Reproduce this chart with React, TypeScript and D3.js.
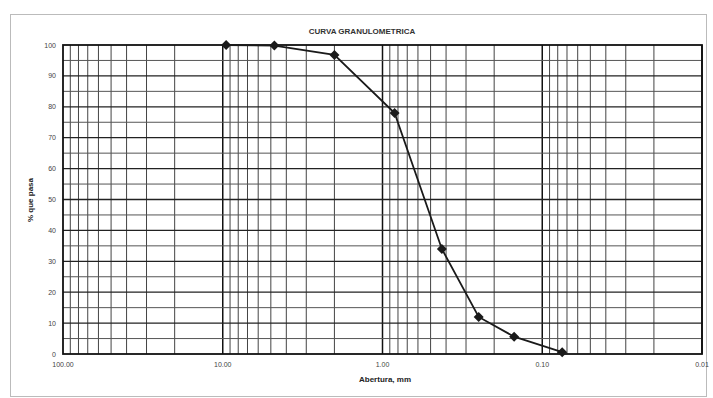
import React, { useEffect, useRef } from "react";
import * as d3 from "d3";

// sieve openings (mm) and cumulative percent passing
const aberturas = [9.525, 4.75, 2.0, 0.84, 0.425, 0.25, 0.15, 0.075];
const pasa = [100, 99.8, 96.8, 78.0, 34.0, 12.0, 5.6, 0.6];
const xTicks = [100, 10, 1, 0.1, 0.01];
const yTicks = [0, 10, 20, 30, 40, 50, 60, 70, 80, 90, 100];

const App = () => {
  const ref = useRef<SVGSVGElement>(null);

  useEffect(() => {
    const svg = d3.select(ref.current);
    svg.selectAll("*").remove();

    const W = 713, H = 398;
    const margin = { top: 45, right: 11, bottom: 44, left: 63 };
    const w = W - margin.left - margin.right,
      h = H - margin.top - margin.bottom;

    // outer frame of the chart area
    svg.append("rect")
      .attr("x", 10.5).attr("y", 14.5)
      .attr("width", 696).attr("height", 382)
      .attr("fill", "#fff")
      .attr("stroke", "#bbb");

    svg.append("text")
      .attr("x", 362).attr("y", 34)
      .attr("text-anchor", "middle")
      .style("font-family", "Liberation Sans, Arial, sans-serif")
      .style("font-size", "8px")
      .style("font-weight", "bold")
      .attr("fill", "#333")
      .text("CURVA GRANULOMETRICA");

    const g = svg.append("g")
      .attr("transform", `translate(${margin.left}, ${margin.top})`);

    // log axis, reversed: coarse on the left
    const x = d3.scaleLog().domain([100, 0.01]).range([0, w]);
    const y = d3.scaleLinear().domain([0, 100]).range([h, 0]);

    // vertical gridlines: 1..9 in every decade
    const vLines: number[] = [];
    for (let e = -2; e < 2; e++) {
      for (let k = 1; k <= 9; k++) vLines.push(k * Math.pow(10, e));
    }
    const isMajor = (d: number) => Math.abs(Math.log10(d) % 1) < 1e-9;
    g.selectAll(".vgrid").data(vLines).join("line")
      .attr("class", "vgrid")
      .attr("x1", d => x(d)).attr("x2", d => x(d))
      .attr("y1", 0).attr("y2", h)
      .attr("stroke", d => (isMajor(d) ? "#111" : "#444"))
      .attr("stroke-width", d => (isMajor(d) ? 1.5 : 1));

    // horizontal gridlines every 5 %
    const hLines = d3.range(5, 100, 5);
    g.selectAll(".hgrid").data(hLines).join("line")
      .attr("class", "hgrid")
      .attr("x1", 0).attr("x2", w)
      .attr("y1", d => y(d)).attr("y2", d => y(d))
      .attr("stroke", d => (d % 10 === 0 ? "#222" : "#555"))
      .attr("stroke-width", d => (d % 10 === 0 ? 1.3 : 1));

    // plot border
    g.append("rect")
      .attr("width", w).attr("height", h)
      .attr("fill", "none")
      .attr("stroke", "#111")
      .attr("stroke-width", 1.8);

    // tick labels
    g.selectAll(".xlab").data(xTicks).join("text")
      .attr("class", "xlab")
      .attr("x", d => x(d)).attr("y", h + 13)
      .attr("text-anchor", "middle")
      .style("font-family", "Liberation Sans, Arial, sans-serif")
      .style("font-size", "7px")
      .attr("fill", "#444")
      .text(d => d3.format(".2f")(d));

    g.selectAll(".ylab").data(yTicks).join("text")
      .attr("class", "ylab")
      .attr("x", -7).attr("y", d => y(d) + 2.5)
      .attr("text-anchor", "end")
      .style("font-family", "Liberation Sans, Arial, sans-serif")
      .style("font-size", "7px")
      .attr("fill", "#444")
      .text(d => d);

    // axis titles
    svg.append("text")
      .attr("x", 385).attr("y", 382)
      .attr("text-anchor", "middle")
      .style("font-family", "Liberation Sans, Arial, sans-serif")
      .style("font-size", "8px")
      .style("font-weight", "bold")
      .attr("fill", "#222")
      .text("Abertura, mm");

    svg.append("text")
      .attr("transform", "translate(33, 200) rotate(-90)")
      .attr("text-anchor", "middle")
      .style("font-family", "Liberation Sans, Arial, sans-serif")
      .style("font-size", "8px")
      .style("font-weight", "bold")
      .attr("fill", "#222")
      .text("% que pasa");

    // grading curve
    const pts = aberturas.map((a, i) => [a, pasa[i]] as [number, number]);
    const line = d3.line<[number, number]>()
      .x(d => x(d[0]))
      .y(d => y(d[1]));

    g.append("path")
      .datum(pts)
      .attr("d", line)
      .attr("fill", "none")
      .attr("stroke", "#1a1a1a")
      .attr("stroke-width", 1.8);

    g.selectAll(".pt").data(pts).join("path")
      .attr("class", "pt")
      .attr("transform", d => `translate(${x(d[0])}, ${y(d[1])}) rotate(45)`)
      .attr("d", d3.symbol().type(d3.symbolSquare).size(50)())
      .attr("fill", "#1a1a1a");
  }, []);

  return (
    <svg ref={ref} width={713} height={398} style={{ position: "absolute", left: 0, top: 0 }} />
  );
};

export default App;
